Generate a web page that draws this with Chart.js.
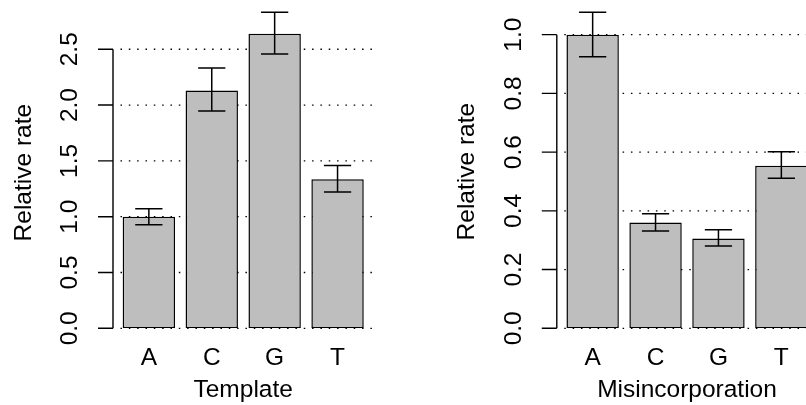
<!DOCTYPE html>
<html>
<head>
<meta charset="utf-8">
<script src="https://cdn.jsdelivr.net/npm/chart.js@4.4.0/dist/chart.umd.min.js"></script>
<style>
html, body { margin: 0; padding: 0; background: #fff; overflow: hidden; width: 806px; height: 405px; }
#left { position: absolute; left: 0; top: 0; }
#right { position: absolute; left: 403px; top: 0; }
</style>
</head>
<body>
<canvas id="left" width="403" height="405"></canvas>
<canvas id="right" width="420" height="405"></canvas>
<script>
const bases = ["A", "C", "G", "T"];

// Template panel
const templateRate = [1.00, 2.13, 2.64, 1.335];
const templateLow = [0.927, 1.946, 2.457, 1.222];
const templateHigh = [1.070, 2.332, 2.831, 1.459];
const templateTicks = [0, 0.5, 1.0, 1.5, 2.0, 2.5];

// Misincorporation panel
const misRate = [1.00, 0.360, 0.306, 0.554];
const misLow = [0.925, 0.331, 0.280, 0.511];
const misHigh = [1.076, 0.390, 0.336, 0.601];
const misTicks = [0, 0.2, 0.4, 0.6, 0.8, 1.0];

const FONT = { family: "'Liberation Sans', Arial, Helvetica, sans-serif", size: 24.5 };
const AXIS_GAP = 4.4; // R leaves a bit more room at the ends than between bars

// dotted grid + R style axis line behind the bars, error bars on top
const rPlot = {
  id: "rPlot",
  beforeDatasetsDraw(chart, args, opts) {
    const ctx = chart.ctx;
    const y = chart.scales.y;
    const area = chart.chartArea;
    const axisX = area.left - AXIS_GAP;
    ctx.save();
    ctx.strokeStyle = "#000";
    ctx.lineWidth = 1.3;
    ctx.setLineDash([1.5, 6.83]);
    opts.ticks.forEach(v => {
      const py = y.getPixelForValue(v);
      ctx.beginPath();
      ctx.moveTo(axisX + 7.5, py);
      ctx.lineTo(area.right + AXIS_GAP, py);
      ctx.stroke();
    });
    ctx.setLineDash([]);
    ctx.lineWidth = 1.4;
    ctx.beginPath();
    ctx.moveTo(axisX, y.getPixelForValue(opts.ticks[0]));
    ctx.lineTo(axisX, y.getPixelForValue(opts.ticks[opts.ticks.length - 1]));
    opts.ticks.forEach(v => {
      const py = y.getPixelForValue(v);
      ctx.moveTo(axisX - 15, py);
      ctx.lineTo(axisX, py);
    });
    ctx.stroke();
    ctx.restore();
  },
  afterDatasetsDraw(chart, args, opts) {
    const ctx = chart.ctx;
    const y = chart.scales.y;
    const bars = chart.getDatasetMeta(0).data;
    ctx.save();
    ctx.strokeStyle = "#000";
    ctx.lineWidth = 1.5;
    bars.forEach((bar, i) => {
      const top = y.getPixelForValue(opts.high[i]);
      const bot = y.getPixelForValue(opts.low[i]);
      const half = bar.width * 0.26;
      ctx.beginPath();
      ctx.moveTo(bar.x, top);
      ctx.lineTo(bar.x, bot);
      ctx.moveTo(bar.x - half, top);
      ctx.lineTo(bar.x + half, top);
      ctx.moveTo(bar.x - half, bot);
      ctx.lineTo(bar.x + half, bot);
      ctx.stroke();
    });
    ctx.restore();
  }
};

function makePanel(id, rate, low, high, ticks, yMax, xTitle, geo) {
  return new Chart(document.getElementById(id), {
    type: "bar",
    data: {
      labels: bases,
      datasets: [{
        data: rate,
        backgroundColor: "#bebebe",
        borderColor: "#000",
        borderWidth: 1.5,
        borderSkipped: false,
        barPercentage: 0.833,
        categoryPercentage: 1
      }]
    },
    options: {
      responsive: false,
      animation: false,
      devicePixelRatio: 1,
      layout: { padding: { top: geo.top, right: geo.right, bottom: 0, left: 0 } },
      plugins: {
        legend: { display: false },
        tooltip: { enabled: false },
        rPlot: { low: low, high: high, ticks: ticks }
      },
      scales: {
        x: {
          grid: { display: false, drawTicks: false },
          border: { display: false },
          ticks: { color: "#000", font: FONT, padding: 15.5, maxRotation: 0 },
          title: { display: true, text: xTitle, color: "#000", font: FONT, padding: { top: 0, bottom: 0.5 } },
          afterFit(s) { s.height = 76.7; s.paddingLeft = 0; s.paddingRight = 0; }
        },
        y: {
          min: 0,
          max: yMax,
          grid: { display: false, drawTicks: false },
          border: { display: false },
          afterBuildTicks(s) { s.ticks = ticks.map(v => ({ value: v })); },
          ticks: {
            color: "#000", font: FONT, padding: 30.3,
            minRotation: 90, maxRotation: 90, crossAlign: "center",
            callback: v => v.toFixed(1)
          },
          title: { display: true, text: "Relative rate", color: "#000", font: FONT, padding: { top: geo.titlePad, bottom: 0 } },
          afterFit(s) { s.width = geo.axisW; s.paddingTop = 0; s.paddingBottom = 0; }
        }
      }
    },
    plugins: [rPlot]
  });
}

makePanel("left", templateRate, templateLow, templateHigh, templateTicks, 2.789, "Template",
  { top: 17, right: 34, axisW: 117.4, titlePad: 9.4 });
makePanel("right", misRate, misLow, misHigh, misTicks, 1.067, "Misincorporation",
  { top: 15, right: 10.2, axisW: 158.2, titlePad: 49.4 });
</script>
</body>
</html>
